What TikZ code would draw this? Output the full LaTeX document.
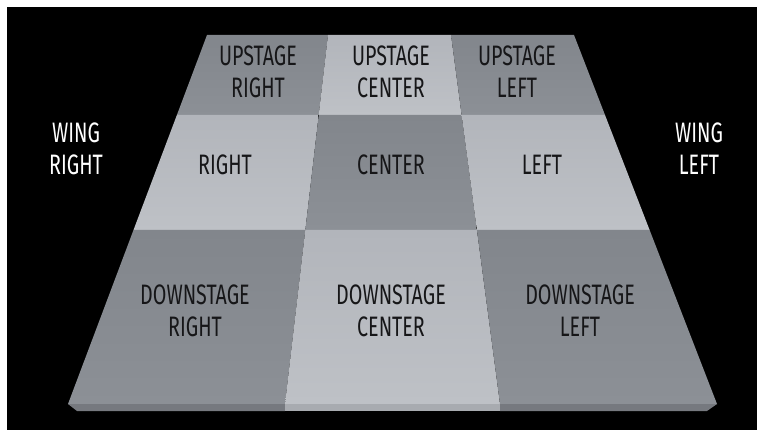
\documentclass[tikz,border=0pt]{standalone}
\usepackage{fontspec}
\newfontfamily\stagefont[FakeStretch=0.7]{Fira Sans}
\definecolor{darkcell}{RGB}{130,134,140}
\definecolor{darkcellb}{RGB}{140,144,150}
\definecolor{lightcell}{RGB}{178,181,187}
\definecolor{lightcellb}{RGB}{190,193,198}
\definecolor{darkfront}{RGB}{118,121,127}
\definecolor{lightfront}{RGB}{168,171,176}
\definecolor{labelink}{RGB}{22,22,24}
\begin{document}
\begin{tikzpicture}[x=0.03cm,y=-0.03cm,
  lbl/.style={font=\stagefont\fontsize{24}{27.5}\selectfont, align=center, text=labelink, inner sep=0pt},
  wing/.style={lbl, text=white},
  darkq/.style={top color=darkcell, bottom color=darkcellb, draw=none},
  lightq/.style={top color=lightcell, bottom color=lightcellb, draw=none}]
\useasboundingbox (0,0) rectangle (757,430);
\fill[white] (0,0) rectangle (757,430);
\fill[black] (7,7) rectangle (757,430);
% grid coordinates
\coordinate (a0) at (207,35);   \coordinate (b0) at (328,35);   \coordinate (c0) at (451,35);   \coordinate (d0) at (574,35);
\coordinate (a1) at (176.9,115);\coordinate (b1) at (318.7,115);\coordinate (c1) at (461.6,115);\coordinate (d1) at (605,115);
\coordinate (a2) at (133.5,230);\coordinate (b2) at (305.3,230);\coordinate (c2) at (476.9,230);\coordinate (d2) at (649.6,230);
\coordinate (a3) at (68,404);   \coordinate (b3) at (285,404);  \coordinate (c3) at (500,404);  \coordinate (d3) at (717,404);
\coordinate (a4) at (77,411);   \coordinate (b4) at (285,411);  \coordinate (c4) at (500,411);  \coordinate (d4) at (707,411);
% cells
\shade[darkq]  (a0) -- (b0) -- (b1) -- (a1) -- cycle;
\shade[lightq] (b0) -- (c0) -- (c1) -- (b1) -- cycle;
\shade[darkq]  (c0) -- (d0) -- (d1) -- (c1) -- cycle;
\shade[lightq] (a1) -- (b1) -- (b2) -- (a2) -- cycle;
\shade[darkq]  (b1) -- (c1) -- (c2) -- (b2) -- cycle;
\shade[lightq] (c1) -- (d1) -- (d2) -- (c2) -- cycle;
\shade[darkq]  (a2) -- (b2) -- (b3) -- (a3) -- cycle;
\shade[lightq] (b2) -- (c2) -- (c3) -- (b3) -- cycle;
\shade[darkq]  (c2) -- (d2) -- (d3) -- (c3) -- cycle;
% front edge
\fill[darkfront]  (a3) -- (b3) -- (b4) -- (a4) -- cycle;
\fill[lightfront] (b3) -- (c3) -- (c4) -- (b4) -- cycle;
\fill[darkfront]  (c3) -- (d3) -- (d4) -- (c4) -- cycle;
% labels
\node[lbl] (usr) at (258,72) {UPSTAGE\\RIGHT};
\node[lbl] (usc) at (391,72) {UPSTAGE\\CENTER};
\node[lbl] (usl) at (517,72) {UPSTAGE\\LEFT};
\node[lbl] (r)   at (225,165) {RIGHT};
\node[lbl] (c)   at (391,165) {CENTER};
\node[lbl] (l)   at (542,165) {LEFT};
\node[lbl] (dsr) at (195,311) {DOWNSTAGE\\RIGHT};
\node[lbl] (dsc) at (391,311) {DOWNSTAGE\\CENTER};
\node[lbl] (dsl) at (580,311) {DOWNSTAGE\\LEFT};
\node[wing] (wr) at (76,149) {WING\\RIGHT};
\node[wing] (wl) at (699,149) {WING\\LEFT};
\end{tikzpicture}
\end{document}
